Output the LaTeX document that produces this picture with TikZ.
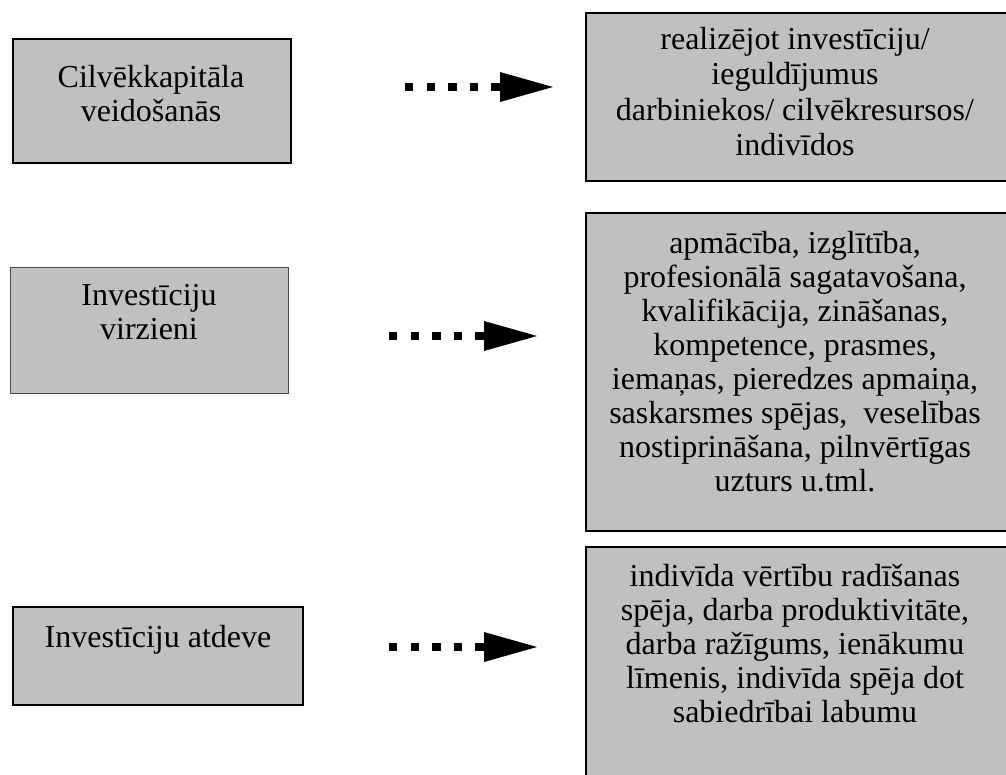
\documentclass[tikz,border=0pt]{standalone}
\usepackage{fontspec}
\setmainfont{Liberation Serif}
\usetikzlibrary{arrows.meta}
\definecolor{boxgray}{RGB}{192,192,192}
\begin{document}
\begin{tikzpicture}[x=1pt,y=-1pt,
  box/.style={draw=black,line width=2pt,fill=boxgray,inner sep=0pt,anchor=north west},
  thinbox/.style={draw=black!70,line width=1pt,fill=boxgray,inner sep=0pt,anchor=north west},
  txt/.style={font=\fontsize{32}{34}\selectfont,align=center,inner sep=0pt,anchor=north},
  widetxt/.style={txt,font=\fontsize{32}{35.5}\selectfont},
  dotarrow/.style={line width=8.3pt,dash pattern=on 8.3pt off 13.3pt,
    -{Triangle[length=53pt,width=30pt,line width=0pt]}}]
\useasboundingbox (0,0) rectangle (1006,775);
\clip (0,0) rectangle (1006,775);

% boxes
\node[box,minimum width=278pt,minimum height=124pt] (b1) at (12,38) {};
\node[box,minimum width=425pt,minimum height=168pt] (r1) at (585,12) {};
\node[thinbox,minimum width=278pt,minimum height=126pt] (b2) at (10,267) {};
\node[box,minimum width=425pt,minimum height=318pt] (r2) at (585,212) {};
\node[box,minimum width=290pt,minimum height=98pt] (b3) at (12,606) {};
\node[box,minimum width=425pt,minimum height=244pt] (r3) at (585,546) {};

% texts
\node[txt] (t1) at (151,65) {Cilvēkkapitāla\\veidošanās};
\node[widetxt] (tr1) at (795,27) {realizējot investīciju/\\ieguldījumus\\darbiniekos/ cilvēkresursos/\\indivīdos};
\node[txt] (t2) at (149,284) {Investīciju\\virzieni};
\node[txt] (tr2) at (795,231) {apmācība, izglītība,\\profesionālā sagatavošana,\\kvalifikācija, zināšanas,\\kompetence, prasmes,\\iemaņas, pieredzes apmaiņa,\\saskarsmes spējas, \ veselības\\nostiprināšana, pilnvērtīgas\\uzturs u.tml.};
\node[txt] (t3) at (158,625) {Investīciju atdeve};
\node[txt] (tr3) at (795,564) {indivīda vērtību radīšanas\\spēja, darba produktivitāte,\\darba ražīgums, ienākumu\\līmenis, indivīda spēja dot\\sabiedrībai labumu};

% arrows
\coordinate (a1s) at (405,87);
\coordinate (a1e) at (553,87);
\coordinate (a2s) at (389,336);
\coordinate (a2e) at (537,336);
\coordinate (a3s) at (389,647);
\coordinate (a3e) at (537,647);
\draw[dotarrow] (a1s) -- (a1e);
\draw[dotarrow] (a2s) -- (a2e);
\draw[dotarrow] (a3s) -- (a3e);
\end{tikzpicture}
\end{document}
